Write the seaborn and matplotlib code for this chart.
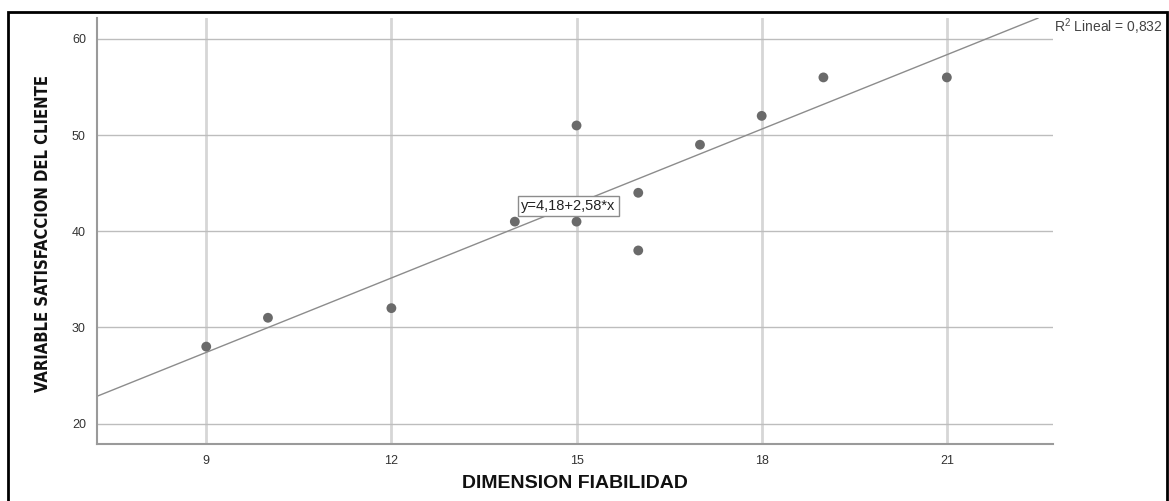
import matplotlib
matplotlib.use("Agg")
import matplotlib.pyplot as plt
import seaborn as sns
import pandas as pd
from matplotlib.patches import Rectangle

# ---- data ----
fiabilidad = [9, 10, 12, 14, 15, 15, 16, 16, 17, 18, 19, 21]
satisfaccion = [28, 31, 32, 41, 51, 41, 44, 38, 49, 52, 56, 56]
intercept = 4.18
slope = 2.58
r2_label = "R$^2$ Lineal = 0,832"
eq_label = "y=4,18+2,58*x"
x_ticks = [9, 12, 15, 18, 21]
y_ticks = [20, 30, 40, 50, 60]
x_title = "DIMENSION FIABILIDAD"
y_title = "VARIABLE SATISFACCION DEL CLIENTE"

df = pd.DataFrame({"x": fiabilidad, "y": satisfaccion})

sns.set_theme(style="white")
plt.rcParams["font.family"] = ["Liberation Sans", "DejaVu Sans"]
plt.rcParams["mathtext.fontset"] = "custom"
plt.rcParams["mathtext.rm"] = "Liberation Sans"

W, H = 1169, 501
fig = plt.figure(figsize=(W / 100, H / 100), dpi=100)
ax = fig.add_axes([97 / W, (H - 444) / H, (1053 - 97) / W, (444 - 18) / H])

ax.set_xlim(7.23, 22.72)
ax.set_ylim(17.87, 62.18)

# grid
for xv in x_ticks:
    ax.axvline(xv, color="#d6d6d6", lw=2, zorder=0)
for yv in y_ticks:
    ax.axhline(yv, color="#bdbdbd", lw=1, zorder=0)

# regression line
ax.axline((0, intercept), slope=slope, color="#8c8c8c", lw=1, zorder=1)

sns.scatterplot(data=df, x="x", y="y", ax=ax, color="#6a6a6a", s=50,
                edgecolor="none", zorder=3)

ax.set_xticks(x_ticks)
ax.set_yticks(y_ticks)
ax.tick_params(length=0, labelsize=9, labelcolor="#333333", pad=8)
for side in ["top", "right"]:
    ax.spines[side].set_visible(False)
for side in ["left", "bottom"]:
    ax.spines[side].set_color("#9a9a9a")
    ax.spines[side].set_linewidth(1.5)

ax.set_xlabel("")
ax.set_ylabel("")
fig.text(575 / W, 1 - 484 / H, x_title, ha="center", va="center",
         fontsize=14, fontweight="bold", color="#111111")
ylab = fig.text(43 / W, 1 - 233 / H, y_title, ha="center", va="center", rotation=90,
                fontsize=17, fontweight="bold", color="#111111",
                family="DejaVu Sans", fontstretch="condensed")
# fit the y title to the reference length (~318 px)
fig.canvas.draw()
ext = ylab.get_window_extent()
ylab.set_fontsize(17 * 318 / ext.height)

ax.text(14.87, 42.6, eq_label, ha="center", va="center", fontsize=10.5,
        color="#222222", zorder=5,
        bbox=dict(boxstyle="square,pad=0.2", fc="white", ec="#8c8c8c", lw=1))

fig.text(1054 / W, 1 - 27 / H, r2_label, ha="left", va="center",
         fontsize=10, color="#444444")

fig.patches.append(Rectangle((8 / W, -0.02), (1167 - 8) / W, (H - 12) / H + 0.02,
                             transform=fig.transFigure, fill=False,
                             ec="black", lw=2))

fig.savefig("out.png", dpi=100)
